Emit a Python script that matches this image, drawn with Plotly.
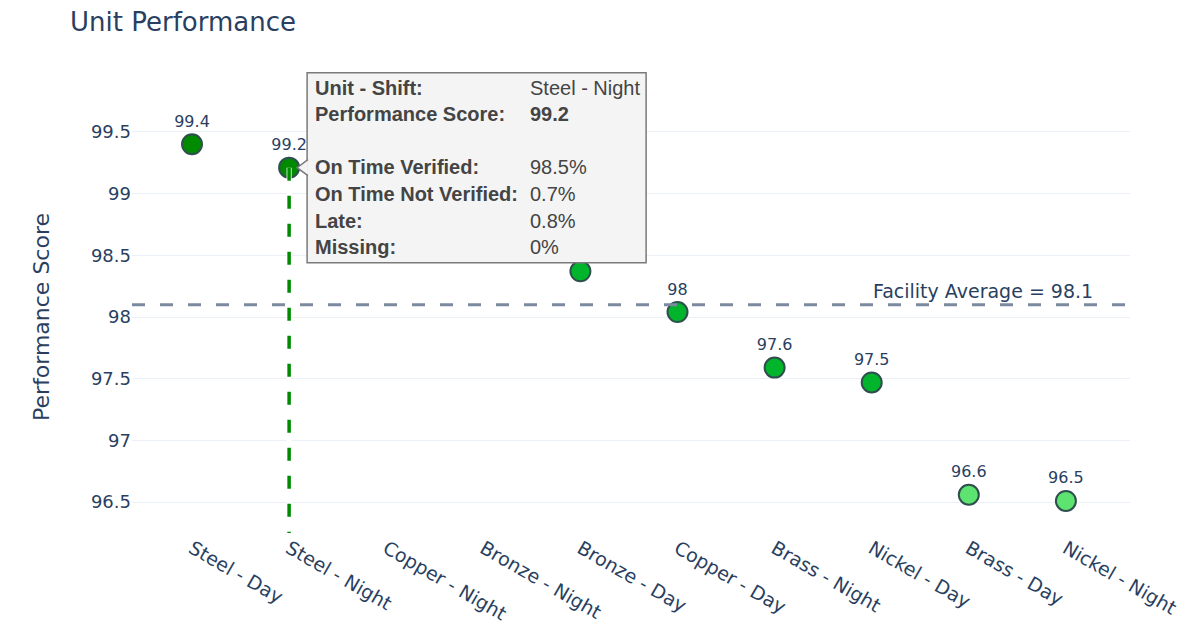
import plotly.graph_objects as go

# ---- data ----
units = ["Steel - Day", "Steel - Night", "Copper - Night", "Bronze - Night", "Bronze - Day",
         "Copper - Day", "Brass - Night", "Nickel - Day", "Brass - Day", "Nickel - Night"]
scores = [99.40, 99.21, 99.0, 98.8, 98.37, 98.04, 97.59, 97.47, 96.56, 96.51]
facility_average = 98.1

hover_unit = "Steel - Night"
tooltip_labels = ["Unit - Shift:", "Performance Score:", "", "On Time Verified:",
                  "On Time Not Verified:", "Late:", "Missing:"]
tooltip_values = ["Steel - Night", "<b>99.2</b>", "", "98.5%", "0.7%", "0.8%", "0%"]

Y_RANGE = [96.25, 99.75]
X_RANGE = [-0.618, 9.66]
FONT = "DejaVu Sans, Verdana, sans-serif"
HOVER_FONT = "Liberation Sans, Arial, sans-serif"
TEXT_COLOR = "#2a3f5f"
W, H = 1181, 628


def score_color(v):
    if v >= 99:
        return "#008a00"
    if v >= 97:
        return "#00b52c"
    return "#5de36f"


colors = [score_color(v) for v in scores]

fig = go.Figure()
fig.add_trace(go.Scatter(
    x=units, y=scores, mode="markers+text",
    text=[f"{round(v, 1):g}" for v in scores], textposition="top center",
    textfont=dict(family=FONT, size=16, color=TEXT_COLOR),
    marker=dict(size=20, color=colors, line=dict(color="#2f4f4f", width=2)),
    hoverinfo="skip", showlegend=False, cliponaxis=False,
))

# facility average line
fig.add_hline(y=facility_average, line=dict(color="#7b8a9e", width=3, dash="13px,15px"))
fig.add_annotation(x=0.965, xref="paper", y=facility_average, yref="y",
                   text=f"Facility Average = {facility_average:g}", showarrow=False,
                   xanchor="right", yanchor="bottom", yshift=1,
                   font=dict(family=FONT, size=19, color=TEXT_COLOR))

# static recreation of the hover state (spike line + hover label)
hi = units.index(hover_unit)
hv = scores[hi]
fig.add_shape(type="line", xref="x", yref="y", x0=hi, x1=hi, y0=hv, y1=Y_RANGE[0],
              line=dict(color="white", width=5), layer="above")
fig.add_shape(type="line", xref="x", yref="y", x0=hi, x1=hi, y0=hv, y1=Y_RANGE[0],
              line=dict(color=score_color(hv), width=3.5, dash="13px,15px"), layer="above")

ax = (hi - X_RANGE[0]) / (X_RANGE[1] - X_RANGE[0])
ay = (hv - Y_RANGE[0]) / (Y_RANGE[1] - Y_RANGE[0])
fig.add_shape(type="rect", xref="paper", yref="paper", xsizemode="pixel", ysizemode="pixel",
              xanchor=ax, yanchor=ay, x0=18, x1=357, y0=-95, y1=95,
              fillcolor="#f4f4f4", line=dict(color="#7a7a7a", width=1.5), layer="above")
fig.add_shape(type="path", xref="paper", yref="paper", xsizemode="pixel", ysizemode="pixel",
              xanchor=ax, yanchor=ay, path="M 18.8,8 L 8,0 L 18.8,-8",
              fillcolor="#f4f4f4", line=dict(color="#7a7a7a", width=1.5), layer="above")

for i, (lab, val) in enumerate(zip(tooltip_labels, tooltip_values)):
    ys = 80 - i * 26.6
    if lab:
        fig.add_annotation(x=ax, y=ay, xref="paper", yref="paper", xshift=24, yshift=ys,
                           text=f"<b>{lab}</b>", showarrow=False, xanchor="left", yanchor="middle",
                           font=dict(family=HOVER_FONT, size=20, color="#444"))
    if val:
        fig.add_annotation(x=ax, y=ay, xref="paper", yref="paper", xshift=239, yshift=ys,
                           text=val, showarrow=False, xanchor="left", yanchor="middle",
                           font=dict(family=HOVER_FONT, size=20, color="#444"))

fig.update_layout(
    width=W, height=H,
    template="plotly_white",
    font=dict(family=FONT, color=TEXT_COLOR, size=18),
    title=dict(text="Unit Performance", x=62 / W, xref="container", xanchor="left",
               y=1 - 14 / H, yanchor="middle", font=dict(size=26, color=TEXT_COLOR)),
    margin=dict(l=124, r=59, t=93, b=103),
    plot_bgcolor="white",
)
fig.update_xaxes(range=X_RANGE, tickangle=30, showgrid=False, zeroline=False,
                 tickfont=dict(size=19), automargin=False)
fig.update_yaxes(range=Y_RANGE, dtick=0.5, gridcolor="#ebf0f8", zeroline=False,
                 title=dict(text="Performance Score", font=dict(size=22), standoff=35),
                 tickfont=dict(size=18), automargin=False)

fig.write_html("out.html")
